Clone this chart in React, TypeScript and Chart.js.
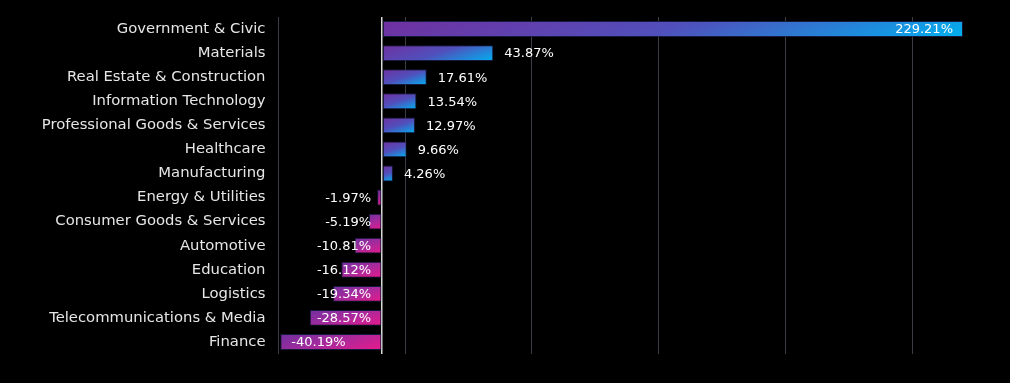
import React, { useEffect, useRef } from "react";
import { Chart, registerables } from "chart.js";

Chart.register(...registerables);

const categories: string[] = [
  "Government & Civic",
  "Materials",
  "Real Estate & Construction",
  "Information Technology",
  "Professional Goods & Services",
  "Healthcare",
  "Manufacturing",
  "Energy & Utilities",
  "Consumer Goods & Services",
  "Automotive",
  "Education",
  "Logistics",
  "Telecommunications & Media",
  "Finance",
];

const values: number[] = [
  229.21, 43.87, 17.61, 13.54, 12.97, 9.66, 4.26, -1.97, -5.19, -10.81, -16.12,
  -19.34, -28.57, -40.19,
];

// where each value label sits relative to its bar
const labelPlacement: string[] = [
  "insideEnd",
  "outside",
  "outside",
  "outside",
  "outside",
  "outside",
  "outside",
  "insideBase",
  "insideBase",
  "insideBase",
  "insideBase",
  "insideBase",
  "insideBase",
  "insideEnd",
];

const axisMin = -40.9;
const axisMax = 230;
const gridStep = 50;

const FONT = "'DejaVu Sans', sans-serif";
const PURPLE = "#7030A0";
const BLUE = "#00B0F0";
const BLUE_MID = "#5050BC";
const PINK = "#E8198B";
const PINK_MID = "#A82A9C";
const BAR_PCT = 0.66;

const valueLabelPlugin = {
  id: "valueLabels",
  afterDatasetsDraw(chart: any) {
    const { ctx } = chart;
    const meta = chart.getDatasetMeta(0);
    const xs = chart.scales.x;
    const zero = xs.getPixelForValue(0);
    ctx.save();
    ctx.font = `13px ${FONT}`;
    ctx.fillStyle = "#ffffff";
    ctx.textBaseline = "middle";
    meta.data.forEach((bar: any, i: number) => {
      const v = values[i];
      const end = xs.getPixelForValue(v);
      const text = v.toFixed(2) + "%";
      const mode = labelPlacement[i];
      let tx: number;
      let align: CanvasTextAlign;
      if (v >= 0) {
        if (mode === "insideEnd") {
          tx = end - 10;
          align = "right";
        } else {
          tx = end + 11;
          align = "left";
        }
      } else {
        if (mode === "insideEnd") {
          tx = end + 11;
          align = "left";
        } else {
          tx = zero - 11;
          align = "right";
        }
      }
      ctx.textAlign = align;
      ctx.fillText(text, tx, bar.y + 1);
    });
    ctx.restore();
  },
};

export default function App() {
  const canvasRef = useRef<HTMLCanvasElement | null>(null);

  useEffect(() => {
    const canvas = canvasRef.current;
    if (!canvas) return;

    const gradientFor = (c: any) => {
      const chart = c.chart;
      const area = chart.chartArea;
      if (!area || c.type !== "data") return PURPLE;
      const xs = chart.scales.x;
      const ys = chart.scales.y;
      const v = values[c.dataIndex];
      const x0 = xs.getPixelForValue(0);
      const x1 = xs.getPixelForValue(v);
      const yc = ys.getPixelForValue(c.dataIndex);
      const h = ((area.bottom - area.top) / categories.length) * BAR_PCT;
      const left = Math.min(x0, x1);
      const top = yc - h / 2;
      const w = Math.abs(x1 - x0);
      const k = 3;
      const s = (w + k * h) / (1 + k * k);
      const g = chart.ctx.createLinearGradient(left, top, left + s, top + k * s);
      g.addColorStop(0, PURPLE);
      g.addColorStop(0.5, v >= 0 ? BLUE_MID : PINK_MID);
      g.addColorStop(1, v >= 0 ? BLUE : PINK);
      return g;
    };

    const chart = new Chart(canvas, {
      type: "bar",
      data: {
        labels: categories,
        datasets: [
          {
            data: values,
            backgroundColor: gradientFor,
            borderColor: "rgba(25,30,70,0.85)",
            borderWidth: 1,
            borderSkipped: false,
            barPercentage: BAR_PCT,
            categoryPercentage: 1,
          },
        ],
      },
      options: {
        indexAxis: "y",
        responsive: false,
        animation: false,
        maintainAspectRatio: false,
        layout: { padding: { top: 17, bottom: 29, right: 45, left: 0 } },
        plugins: {
          legend: { display: false },
          tooltip: { enabled: false },
        },
        scales: {
          x: {
            min: axisMin,
            max: axisMax,
            afterBuildTicks: (scale: any) => {
              const ticks: any[] = [{ value: 0 }];
              for (let t = axisMin; t <= axisMax + 1e-9; t += gridStep) {
                ticks.push({ value: t });
              }
              ticks.sort((a, b) => a.value - b.value);
              scale.ticks = ticks;
            },
            ticks: { display: false },
            border: { display: false },
            grid: {
              drawTicks: false,
              color: (c: any) =>
                c.tick && Math.abs(c.tick.value) < 1e-9 ? "#d9d9d9" : "#3a3e44",
              lineWidth: (c: any) =>
                c.tick && Math.abs(c.tick.value) < 1e-9 ? 1.5 : 1,
            },
          },
          y: {
            afterFit: (scale: any) => {
              scale.width = 278.5;
              scale.paddingTop = 0;
              scale.paddingBottom = 0;
            },
            border: { display: false },
            grid: { display: false, drawTicks: false },
            ticks: {
              color: "#e6e6e6",
              padding: 13,
              font: { family: FONT, size: 14.8 },
            },
          },
        },
      },
      plugins: [valueLabelPlugin],
    });

    return () => {
      chart.destroy();
    };
  }, []);

  return (
    <div
      style={{
        position: "absolute",
        left: 0,
        top: 0,
        width: 1010,
        height: 383,
        background: "#000000",
      }}
    >
      <canvas
        ref={canvasRef}
        width={1010}
        height={383}
        style={{ width: 1010, height: 383, display: "block" }}
      />
    </div>
  );
}
